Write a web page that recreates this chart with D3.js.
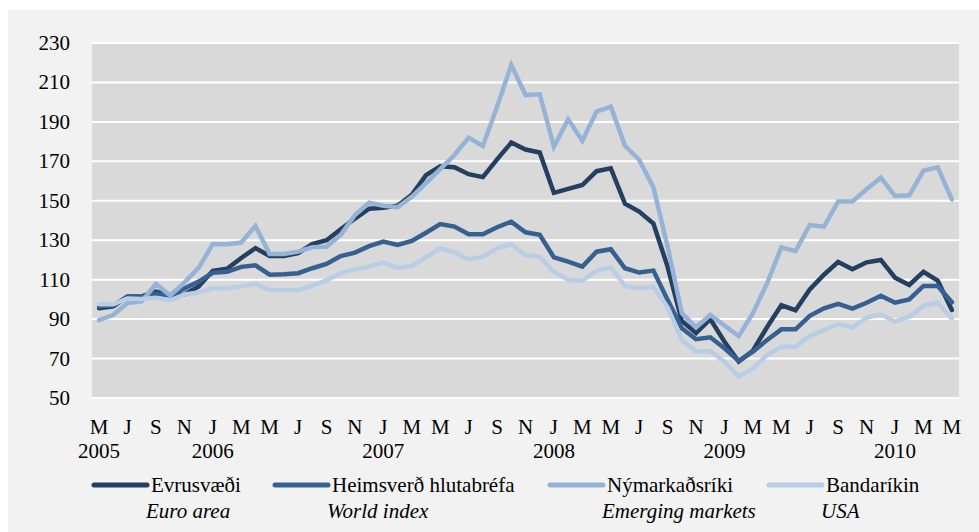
<!DOCTYPE html>
<html>
<head>
<meta charset="utf-8">
<script src="https://cdn.jsdelivr.net/npm/d3@7"></script>
<style>
  body { margin: 0; background: #ffffff; }
  svg { display: block; font-family: "Liberation Serif", "Times New Roman", serif; }
</style>
</head>
<body>
<svg id="chart" width="979" height="532"></svg>
<script>
// Monthly index, May 2005 - May 2010
var months = ["M","J","J","A","S","O","N","D","J","F","M","A",
              "M","J","J","A","S","O","N","D","J","F","M","A",
              "M","J","J","A","S","O","N","D","J","F","M","A",
              "M","J","J","A","S","O","N","D","J","F","M","A",
              "M","J","J","A","S","O","N","D","J","F","M","A","M"];
var yearLabels = [{i: 0, t: "2005"}, {i: 8, t: "2006"}, {i: 20, t: "2007"},
                  {i: 32, t: "2008"}, {i: 44, t: "2009"}, {i: 56, t: "2010"}];
var yTicks = [50, 70, 90, 110, 130, 150, 170, 190, 210, 230];

var euroArea = [95.5, 96.5, 101.5, 101.5, 104, 102, 102.5, 106.5, 114.5, 115.5, 121, 126,
  122, 122, 123.5, 128, 130, 135.5, 141, 146, 146.5, 147.5, 153, 163,
  167.5, 167, 163.5, 162, 171, 179.5, 176, 174.5, 154, 156, 158, 165,
  166.5, 148.5, 144.5, 138.5, 116.5, 89, 83, 90, 78.5, 68.5, 74, 86,
  97, 94.5, 105, 112.5, 119, 115.3, 118.8, 120, 111, 107.3, 114, 109.5, 94.6];

var worldIndex = [96.5, 97, 101.5, 101.5, 103, 102, 105.5, 109, 113.5, 114, 116.5, 117.3,
  112.5, 112.8, 113.3, 115.8, 118, 122, 123.7, 127, 129.3, 127.6, 129.6, 133.8,
  138.2, 136.9, 133, 133, 136.6, 139.4, 134, 132.7, 121.3, 119.1, 116.6, 124.2,
  125.4, 115.8, 113.6, 114.6, 99.7, 85.3, 79.8, 80.8, 75.2, 68.8, 73.5, 79.4,
  84.8, 84.8, 91.7, 95.5, 97.7, 95.3, 98.3, 101.9, 98.3, 100, 106.8, 106.8, 98.5];

var emerging = [89.5, 92.2, 98.2, 99, 107.8, 102, 108.5, 116, 128, 128, 128.8, 137.2,
  123, 123, 124.2, 126.5, 126.7, 132.7, 142.8, 149, 147.5, 146.7, 152, 158.9,
  166, 173.2, 182, 177.8, 197.7, 218.9, 203.6, 204, 177.5, 191.3, 180.5, 195.2,
  197.7, 177.9, 170.7, 156.8, 126.7, 93, 85.8, 92.1, 86.7, 81.4, 93, 108.2,
  126.4, 124.5, 137.7, 136.9, 149.6, 149.6, 155.8, 161.7, 152.4, 152.8, 165.3, 167, 150.7];

var usa = [97.5, 97.5, 100.5, 100.2, 100.8, 99.5, 102.5, 103.5, 105.6, 105.6, 106.6, 108,
  104.7, 104.7, 104.8, 107, 109.7, 113.2, 115.3, 116.6, 118.6, 116, 117, 121.3,
  125.9, 123.9, 120.3, 121.7, 125.9, 128, 122.5, 121.7, 114, 109.8, 109.5, 114.6,
  116.3, 106.8, 105.6, 106.4, 96, 79.4, 73.5, 73.8, 68.4, 60.8, 65, 71.8,
  76, 76, 81.4, 84.5, 87.5, 85.7, 90.7, 92.4, 88.7, 91.2, 96.7, 98.3, 90.3];

var series = [
  {name: "Evrusvæði", en: "Euro area", color: "#243f60", values: euroArea},
  {name: "Heimsverð hlutabréfa", en: "World index", color: "#376092", values: worldIndex},
  {name: "Nýmarkaðsríki", en: "Emerging markets", color: "#95b3d7", values: emerging},
  {name: "Bandaríkin", en: "USA", color: "#b9cde5", values: usa}
];

var svg = d3.select("#chart");
var plotLeft = 92, plotRight = 959, plotTop = 43, plotBottom = 398;

// outer panel
svg.append("rect").attr("x", 8).attr("y", 10).attr("width", 971).attr("height", 522)
   .attr("fill", "#f2f2f2");

var idx = d3.range(months.length);
var x = d3.scalePoint().domain(idx).range([plotLeft, plotRight]).padding(0.5);
var y = d3.scaleLinear().domain([50, 230]).range([plotBottom, plotTop]);

svg.append("rect").attr("x", plotLeft).attr("y", plotTop)
   .attr("width", plotRight - plotLeft).attr("height", plotBottom - plotTop)
   .attr("fill", "#d9d9d9");

// gridlines
svg.selectAll("line.grid").data(yTicks).enter().append("line")
   .attr("class", "grid")
   .attr("x1", plotLeft).attr("x2", plotRight)
   .attr("y1", function(d) { return y(d); })
   .attr("y2", function(d) { return y(d); })
   .attr("stroke", "#ffffff").attr("stroke-width", 2);

// y axis labels
svg.selectAll("text.ytick").data(yTicks).enter().append("text")
   .attr("class", "ytick")
   .attr("x", 70)
   .attr("y", function(d) { return y(d) + 7; })
   .attr("text-anchor", "end")
   .attr("font-size", 21)
   .attr("fill", "#000")
   .text(function(d) { return d; });

// month labels, every second month
svg.selectAll("text.month").data(idx.filter(function(i) { return i % 2 === 0; }))
   .enter().append("text")
   .attr("class", "month")
   .attr("x", function(i) { return x(i); })
   .attr("y", 434)
   .attr("text-anchor", "middle")
   .attr("font-size", 21)
   .text(function(i) { return months[i]; });

svg.selectAll("text.year").data(yearLabels).enter().append("text")
   .attr("class", "year")
   .attr("x", function(d) { return x(d.i); })
   .attr("y", 458)
   .attr("text-anchor", "middle")
   .attr("font-size", 21)
   .text(function(d) { return d.t; });

// lines
var line = d3.line()
  .x(function(d, i) { return x(i); })
  .y(function(d) { return y(d); });

svg.selectAll("path.series").data(series).enter().append("path")
   .attr("class", "series")
   .attr("d", function(s) { return line(s.values); })
   .attr("fill", "none")
   .attr("stroke", function(s) { return s.color; })
   .attr("stroke-width", 4.5)
   .attr("stroke-linejoin", "miter")
   .attr("stroke-linecap", "round");

// legend
var legendX = [92, 273, 548, 767];
var leg = svg.selectAll("g.legend").data(series).enter().append("g")
   .attr("class", "legend")
   .attr("transform", function(d, i) { return "translate(" + legendX[i] + ",0)"; });

leg.append("line")
   .attr("x1", 2).attr("x2", 55)
   .attr("y1", 485).attr("y2", 485)
   .attr("stroke", function(d) { return d.color; })
   .attr("stroke-width", 5)
   .attr("stroke-linecap", "round");

leg.append("text")
   .attr("x", 59).attr("y", 492)
   .attr("font-size", 21)
   .text(function(d) { return d.name; });

leg.append("text")
   .attr("x", 54).attr("y", 518)
   .attr("font-size", 21)
   .attr("font-style", "italic")
   .text(function(d) { return d.en; });
</script>
</body>
</html>
